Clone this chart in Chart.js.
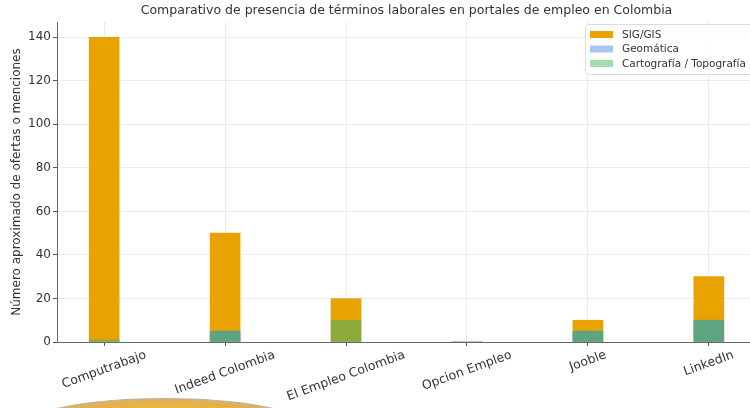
<!DOCTYPE html>
<html>
<head>
<meta charset="utf-8">
<script src="https://cdn.jsdelivr.net/npm/chart.js@4"></script>
<style>
  html, body { margin: 0; padding: 0; background: #fff; overflow: hidden; }
  #wrap { position: relative; width: 790px; height: 408px; }
  #deco {
    position: absolute; left: 30px; top: 398px; width: 270px; height: 50px;
    border-radius: 50%;
    border-top: 1px solid #b8aea2;
    background: radial-gradient(ellipse at 50% 60%, #f8c93c 0%, #f2b934 40%, #e3b04c 65%, #c9bcae 90%);
  }
</style>
</head>
<body>
<div id="wrap">
  <canvas id="chart" width="790" height="408"></canvas>
  <div id="deco"></div>
</div>
<script>
const categories = ['Computrabajo', 'Indeed Colombia', 'El Empleo Colombia', 'Opcion Empleo', 'Jooble', 'LinkedIn'];
const sigGis = [140, 50, 20, 0, 10, 30];
const geomatica = [0, 5, 0, 0, 5, 10];
const cartografia = [1, 5, 10, 0, 5, 10];
const yTicks = [0, 20, 40, 60, 80, 100, 120, 140];

const TITLE = 'Comparativo de presencia de términos laborales en portales de empleo en Colombia';
const FONT = 'DejaVu Sans, Verdana, sans-serif';

const toPoints = arr => arr.map((v, i) => ({ x: i, y: v }));

// title, rotated category labels and legend drawn on top of the library scales
const overlay = {
  id: 'overlay',
  afterDraw(chart) {
    const { ctx, chartArea } = chart;
    const xs = chart.scales.x;
    ctx.save();

    ctx.fillStyle = '#333';
    ctx.font = '12.5px ' + FONT;
    ctx.textAlign = 'center';
    ctx.textBaseline = 'middle';
    ctx.fillText(TITLE, (chartArea.left + chartArea.right) / 2, 11);

    ctx.font = '12.5px ' + FONT;
    const ang = 20 * Math.PI / 180;
    categories.forEach((c, i) => {
      const w = ctx.measureText(c).width;
      const h = 12;
      const bh = w * Math.sin(ang) + h * Math.cos(ang);
      const x = xs.getPixelForValue(i);
      const y = chartArea.bottom + 7 + bh / 2;
      ctx.save();
      ctx.translate(x, y);
      ctx.rotate(-ang);
      ctx.fillText(c, 0, 0);
      ctx.restore();
    });

    // legend
    const lx = 585, ly = 24, lw = 190, lh = 50;
    ctx.fillStyle = 'rgba(255,255,255,0.85)';
    ctx.strokeStyle = '#dddddd';
    ctx.lineWidth = 1;
    ctx.beginPath();
    ctx.roundRect(lx + 0.5, ly + 0.5, lw, lh, 3);
    ctx.fill();
    ctx.stroke();
    ctx.font = '10.5px ' + FONT;
    ctx.textAlign = 'left';
    chart.data.datasets.forEach((ds, i) => {
      const ry = ly + 10 + i * 14.5;
      ctx.fillStyle = ds.legendColor;
      ctx.fillRect(lx + 5, ry - 3, 23, 7);
      ctx.fillStyle = '#333';
      ctx.fillText(ds.label, lx + 37, ry + 1);
    });
    ctx.restore();
  }
};

new Chart(document.getElementById('chart'), {
  type: 'bar',
  data: {
    datasets: [
      { label: 'SIG/GIS', data: toPoints(sigGis), backgroundColor: '#e8a300', legendColor: '#e8a300', order: 3 },
      { label: 'Geomática', data: toPoints(geomatica), backgroundColor: 'rgba(80,140,230,0.6)', legendColor: '#a9c5ec', order: 2 },
      { label: 'Cartografía / Topografía', data: toPoints(cartografia), backgroundColor: 'rgba(50,180,120,0.5)', legendColor: '#a6dcb2', order: 1 }
    ]
  },
  options: {
    responsive: false,
    animation: false,
    layout: { padding: { top: 22, right: 34, left: 0, bottom: 0 } },
    datasets: { bar: { grouped: false, barThickness: 30, borderWidth: 0 } },
    plugins: { legend: { display: false }, title: { display: false }, tooltip: { enabled: false } },
    scales: {
      x: {
        type: 'linear',
        offset: false,
        min: -0.39,
        max: 5.39,
        afterBuildTicks: s => { s.ticks = categories.map((c, i) => ({ value: i })); },
        afterFit: s => { s.height = 66; },
        ticks: { callback: () => '', padding: 0 },
        grid: { offset: false, color: '#ececec', tickColor: '#555', tickLength: 4 },
        border: { color: '#666', width: 1 }
      },
      y: {
        min: 0,
        max: 147,
        afterBuildTicks: s => { s.ticks = yTicks.map(v => ({ value: v })); },
        afterFit: s => { s.width = 57; },
        ticks: { color: '#333', font: { family: FONT, size: 12 }, padding: 2 },
        grid: { color: '#ececec', tickColor: '#555', tickLength: 4 },
        border: { color: '#666', width: 1 },
        title: {
          display: true,
          text: 'Número aproximado de ofertas o menciones',
          color: '#333',
          font: { family: FONT, size: 12 },
          padding: { top: 10, bottom: 0 }
        }
      }
    }
  },
  plugins: [overlay]
});
</script>
</body>
</html>
